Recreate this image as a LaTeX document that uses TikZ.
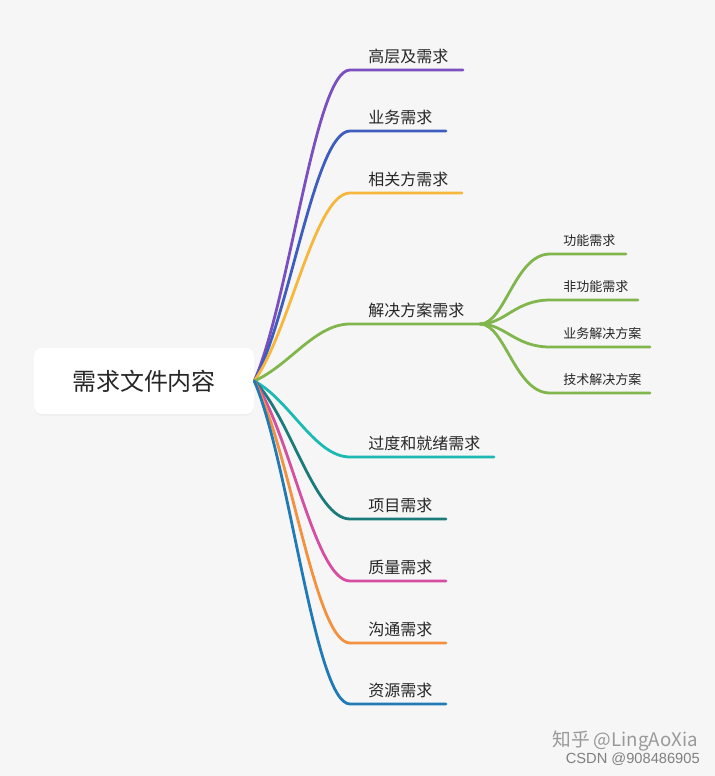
\documentclass[tikz,border=0pt]{standalone}
\usepackage{fontspec}
\setmainfont{Noto Sans CJK SC}
\setsansfont{Liberation Sans}
\usetikzlibrary{shadows}

\definecolor{bgcol}{HTML}{F6F6F6}
\definecolor{cPurple}{HTML}{7B4FC0}
\definecolor{cBlue}{HTML}{3E5DBF}
\definecolor{cYellow}{HTML}{F6B73C}
\definecolor{cGreen}{HTML}{80B64C}
\definecolor{cTeal}{HTML}{1DB9B3}
\definecolor{cDkTeal}{HTML}{1B7B7B}
\definecolor{cPink}{HTML}{D64EA1}
\definecolor{cOrange}{HTML}{F3913E}
\definecolor{cSea}{HTML}{1F7AB6}

\begin{document}
\begin{tikzpicture}[
    x=0.75pt, y=-0.75pt,
    every node/.style={font=\fontsize{12}{14}\selectfont, text=black!85, inner sep=0pt},
    root/.style={rectangle, rounded corners=6pt, fill=white, minimum width=165pt, minimum height=49.5pt,
                 font=\fontsize{18}{20}\selectfont, drop shadow={opacity=0.07, shadow xshift=0pt, shadow yshift=-1.2pt}},
    topic/.style={anchor=base west},
    subtopic/.style={anchor=base west, font=\fontsize{9.75}{11}\selectfont},
    branch/.style={line width=2.1pt, line cap=round},
    wmark/.style={anchor=east, text=black!40}
]
% --- canvas ---
\fill[bgcol] (0,0) rectangle (715,776);
\useasboundingbox (0,0) rectangle (715,776);

% --- central topic ---
\node[root] (root) at (144,381) {需求文件内容};

% --- branch lines ---
\coordinate (b1s) at (350,70);  \coordinate (b1e) at (463,70);
\coordinate (b2s) at (350,131); \coordinate (b2e) at (446,131);
\coordinate (b3s) at (350,193); \coordinate (b3e) at (462,193);
\coordinate (b4s) at (350,324); \coordinate (b4e) at (480,324);
\coordinate (b5s) at (350,457); \coordinate (b5e) at (494,457);
\coordinate (b6s) at (350,519); \coordinate (b6e) at (446,519);
\coordinate (b7s) at (350,581); \coordinate (b7e) at (446,581);
\coordinate (b8s) at (350,643); \coordinate (b8e) at (446,643);
\coordinate (b9s) at (350,704); \coordinate (b9e) at (446,704);

% --- topics ---
\node[topic] (t1) at (368,62)  {高层及需求};
\node[topic] (t2) at (368,123) {业务需求};
\node[topic] (t3) at (368,185) {相关方需求};
\node[topic] (t4) at (368,316) {解决方案需求};
\node[topic] (t5) at (368,449) {过度和就绪需求};
\node[topic] (t6) at (368,511) {项目需求};
\node[topic] (t7) at (368,573) {质量需求};
\node[topic] (t8) at (368,635) {沟通需求};
\node[topic] (t9) at (368,696) {资源需求};

\draw[branch, cPurple] (root.east) .. controls (290,299) and (315,70)  .. (b1s) -- (b1e);
\draw[branch, cBlue]   (root.east) .. controls (290,315) and (315,131) .. (b2s) -- (b2e);
\draw[branch, cYellow] (root.east) .. controls (290,331) and (315,193) .. (b3s) -- (b3e);
\draw[branch, cGreen]  (root.east) .. controls (290,365) and (315,324) .. (b4s) -- (b4e);
\draw[branch, cTeal]   (root.east) .. controls (290,400) and (315,457) .. (b5s) -- (b5e);
\draw[branch, cDkTeal] (root.east) .. controls (290,416) and (315,519) .. (b6s) -- (b6e);
\draw[branch, cPink]   (root.east) .. controls (290,432) and (315,581) .. (b7s) -- (b7e);
\draw[branch, cOrange] (root.east) .. controls (290,448) and (315,643) .. (b8s) -- (b8e);
\draw[branch, cSea]    (root.east) .. controls (290,464) and (315,704) .. (b9s) -- (b9e);

% --- sub topics of 解决方案需求 ---
\coordinate (s1s) at (550,254); \coordinate (s1e) at (626,254);
\coordinate (s2s) at (550,300); \coordinate (s2e) at (638,300);
\coordinate (s3s) at (550,347); \coordinate (s3e) at (650,347);
\coordinate (s4s) at (550,393); \coordinate (s4e) at (650,393);

\node[subtopic] (u1) at (563,245.5) {功能需求};
\node[subtopic] (u2) at (563,291.5) {非功能需求};
\node[subtopic] (u3) at (563,338.5) {业务解决方案};
\node[subtopic] (u4) at (563,384.5) {技术解决方案};

\draw[branch, cGreen] (b4e) .. controls (505,324) and (515,254) .. (s1s) -- (s1e);
\draw[branch, cGreen] (b4e) .. controls (505,324) and (515,300) .. (s2s) -- (s2e);
\draw[branch, cGreen] (b4e) .. controls (505,324) and (515,347) .. (s3s) -- (s3e);
\draw[branch, cGreen] (b4e) .. controls (505,324) and (515,393) .. (s4s) -- (s4e);

% --- watermark ---
\node[wmark, font=\fontsize{14}{16}\selectfont] (zh) at (698,741) {知乎 @LingAoXia};
\node[wmark, font=\sffamily\fontsize{11}{12}\selectfont, text=black!50] (csdn) at (700,759) {CSDN @908486905};
\end{tikzpicture}
\end{document}
